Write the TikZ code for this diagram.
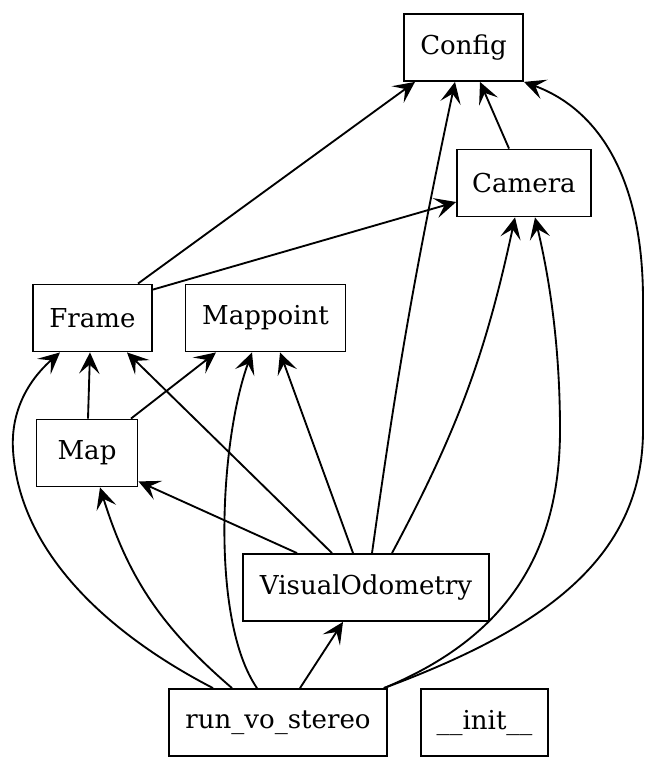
\documentclass[tikz,border=0pt]{standalone}
\usepackage{fontspec}
\setmainfont{DejaVu Serif}
\usetikzlibrary{arrows.meta, calc}
\tikzset{
  every picture/.style={line width=1pt},
  box/.style={draw, rectangle, inner sep=0pt, minimum height=36pt, minimum width=#1, font=\fontsize{14}{16}\selectfont},
  box/.default=54pt,
  arrow/.style={-{Stealth[length=11.5pt, width=11pt, inset=5pt]}, draw},
}

\begin{document}
\begin{tikzpicture}[x=0.5376pt, y=-0.5376pt]
  \useasboundingbox (0,0) rectangle (668,772);
  \node[box=64pt] (config) at (463.5,47.5) {Config};
  \node[box=72pt] (camera) at (524,183) {Camera};
  \node[box=64pt] (frame) at (92.5,318) {Frame};
  \node[box=86pt] (mappoint) at (265.5,318) {Mappoint};
  \node[box=54.3pt] (map) at (87,453) {Map};
  \node[box=132.3pt] (vo) at (366,587.5) {VisualOdometry};
  \node[box=117.2pt] (run) at (278,722.5) {run\_vo\_stereo};
  \node[box=68.3pt] (init) at (484.5,722.5) {\_\_init\_\_};

  \draw[arrow] ($(frame.north)+(45.5,0)$) -- ($(config.south)+(-48.5,0)$);
  \draw[arrow] ($(frame.north east)+(0,6)$) -- ($(camera.west)+(0,19)$);
  \draw[arrow] ($(camera.north)+(-15,0)$) -- ($(config.south)+(16.5,0)$);
  \draw[arrow] ($(vo.north)+(6,0)$) to[bend left=2] ($(config.south)+(-8.5,0)$);
  \draw[arrow] ($(vo.north)+(26,0)$) to[bend right=8] ($(camera.south)+(-9,0)$);
  \draw[arrow] ($(run.north east)+(-4,0)$) .. controls (540,630) and (643,560) .. (643,430)
    -- (643,300) .. controls (643,180) and (600,110) .. (config.south east);
  \draw[arrow] ($(run.north east)+(-4,0)$) .. controls (500,640) and (560,560) .. (560,430)
    .. controls (560,330) and (545,260) .. ($(camera.south)+(11,0)$);

  \draw[arrow] ($(map.north)+(1,0)$) -- ($(frame.south)+(-2.5,0)$);
  \draw[arrow] ($(map.north)+(44,0)$) -- ($(mappoint.south)+(-49.5,0)$);
  \draw[arrow] ($(vo.north)+(-34,0)$) -- ($(frame.south)+(34.5,0)$);
  \draw[arrow] ($(vo.north)+(-13,0)$) -- ($(mappoint.south)+(14.5,0)$);
  \draw[arrow] ($(vo.north)+(-69,0)$) -- ($(map.south east)+(0,-6)$);

  \draw[arrow] ($(run.north)+(-65,0)$) .. controls (120,640) and (20,560) .. (13,450)
    .. controls (10,400) and (40,370) .. ($(frame.south)+(-32.5,0)$);
  \draw[arrow] ($(run.north)+(-46,0)$) to[bend left=16] ($(map.south)+(13,0)$);
  \draw[arrow] ($(run.north)+(-21,0)$) .. controls (210,620) and (220,440) .. ($(mappoint.south)+(-13.5,0)$);
  \draw[arrow] ($(run.north)+(22,0)$) -- ($(vo.south)+(-23,0)$);
\end{tikzpicture}
\end{document}
